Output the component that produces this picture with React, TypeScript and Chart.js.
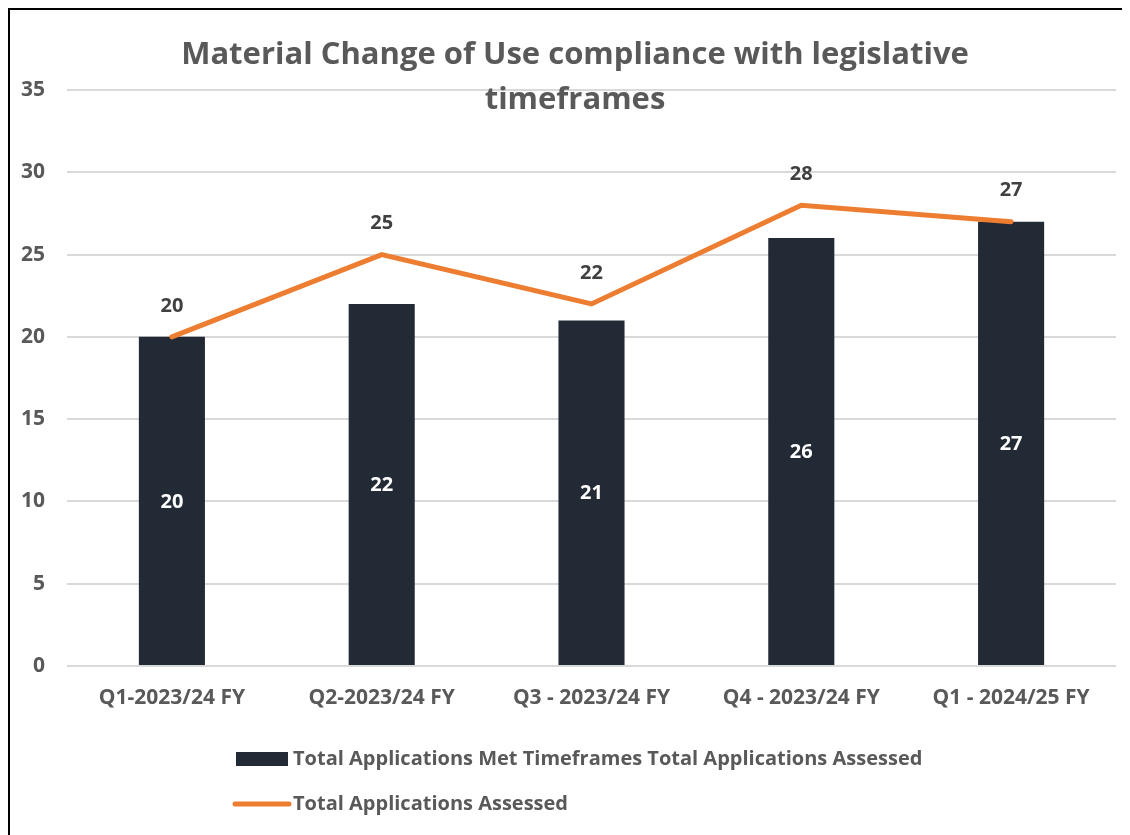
import React, { useEffect, useRef } from "react";
import { Chart, registerables } from "chart.js";

Chart.register(...registerables);

const titleLines = ["Material Change of Use compliance with legislative", "timeframes"];
const categories = ["Q1-2023/24 FY", "Q2-2023/24 FY", "Q3 - 2023/24 FY", "Q4 - 2023/24 FY", "Q1 - 2024/25 FY"];
const metTimeframes = [20, 22, 21, 26, 27];
const totalAssessed = [20, 25, 22, 28, 27];
const barLabel = "Total Applications Met Timeframes Total Applications Assessed";
const lineLabel = "Total Applications Assessed";
const yTicks = [0, 5, 10, 15, 20, 25, 30, 35];

const FONT = "'Open Sans', sans-serif";
const GREY = "#595959";
const BAR_COLOR = "#222A35";
const LINE_COLOR = "#ED7D31";

const titlePlugin = {
  id: "customTitle",
  afterDraw(chart: any) {
    const ctx = chart.ctx;
    ctx.save();
    ctx.fillStyle = GREY;
    ctx.font = `bold 31px ${FONT}`;
    ctx.textAlign = "center";
    ctx.textBaseline = "alphabetic";
    ctx.fillText(titleLines[0], 565, 54);
    ctx.fillText(titleLines[1], 565, 99);
    ctx.restore();
  },
};

const labelsPlugin = {
  id: "valueLabels",
  afterDatasetsDraw(chart: any) {
    const ctx = chart.ctx;
    ctx.save();
    ctx.font = `bold 20px ${FONT}`;
    ctx.textAlign = "center";
    ctx.textBaseline = "middle";
    const barMeta = chart.getDatasetMeta(1);
    barMeta.data.forEach((el: any, i: number) => {
      ctx.fillStyle = "#FFFFFF";
      ctx.fillText(String(metTimeframes[i]), el.x, (el.y + el.base) / 2 + 1);
    });
    const lineMeta = chart.getDatasetMeta(0);
    lineMeta.data.forEach((el: any, i: number) => {
      ctx.fillStyle = "#404040";
      ctx.fillText(String(totalAssessed[i]), el.x, el.y - 31);
    });
    ctx.restore();
  },
};

const legendPlugin = {
  id: "customLegend",
  afterDraw(chart: any) {
    const ctx = chart.ctx;
    ctx.save();
    ctx.font = `bold 20px ${FONT}`;
    ctx.textAlign = "left";
    ctx.textBaseline = "middle";
    ctx.fillStyle = BAR_COLOR;
    ctx.fillRect(226, 742, 52, 14);
    ctx.fillStyle = GREY;
    ctx.fillText(barLabel, 283, 749);
    ctx.strokeStyle = LINE_COLOR;
    ctx.lineWidth = 5;
    ctx.lineCap = "round";
    ctx.beginPath();
    ctx.moveTo(225, 794);
    ctx.lineTo(279, 794);
    ctx.stroke();
    ctx.fillStyle = GREY;
    ctx.fillText(lineLabel, 283, 794);
    ctx.restore();
  },
};

export default function App() {
  const canvasRef = useRef<HTMLCanvasElement | null>(null);

  useEffect(() => {
    document.documentElement.style.overflow = "hidden";
    document.body.style.overflow = "hidden";
    const canvas = canvasRef.current;
    if (!canvas) return;
    const chart = new Chart(canvas, {
      type: "bar",
      data: {
        labels: categories,
        datasets: [
          {
            type: "line",
            label: lineLabel,
            data: totalAssessed,
            borderColor: LINE_COLOR,
            backgroundColor: LINE_COLOR,
            borderWidth: 5,
            pointRadius: 0,
            borderCapStyle: "round",
            tension: 0,
            order: 0,
          } as any,
          {
            type: "bar",
            label: barLabel,
            data: metTimeframes,
            backgroundColor: BAR_COLOR,
            barPercentage: 0.63,
            categoryPercentage: 0.5,
            order: 1,
          },
        ],
      },
      options: {
        responsive: false,
        animation: false,
        devicePixelRatio: 1,
        layout: { padding: { top: 80, right: 14, bottom: 109, left: 0 } },
        plugins: {
          legend: { display: false },
          title: { display: false },
          tooltip: { enabled: false },
        },
        scales: {
          x: {
            grid: { display: false, drawTicks: false },
            border: { display: false },
            ticks: {
              color: GREY,
              font: { family: FONT, size: 21, weight: "bold" },
              padding: 19,
              maxRotation: 0,
            },
            afterFit(scale: any) {
              scale.height = 60;
            },
          },
          y: {
            min: 0,
            max: 35,
            afterBuildTicks(scale: any) {
              scale.ticks = yTicks.map((v) => ({ value: v }));
            },
            grid: { color: "#D9D9D9", lineWidth: 2, drawTicks: false },
            border: { display: false },
            ticks: {
              color: GREY,
              font: { family: FONT, size: 21, weight: "bold" },
              padding: 22,
            },
            afterFit(scale: any) {
              scale.width = 57;
            },
          },
        },
      },
      plugins: [titlePlugin, labelsPlugin, legendPlugin],
    });
    return () => chart.destroy();
  }, []);

  return (
    <div
      style={{
        border: "2px solid #000",
        width: 1120,
        height: 825,
        boxSizing: "content-box",
        background: "#fff",
      }}
    >
      <canvas ref={canvasRef} width={1120} height={825} style={{ display: "block", width: 1120, height: 825 }} />
    </div>
  );
}
